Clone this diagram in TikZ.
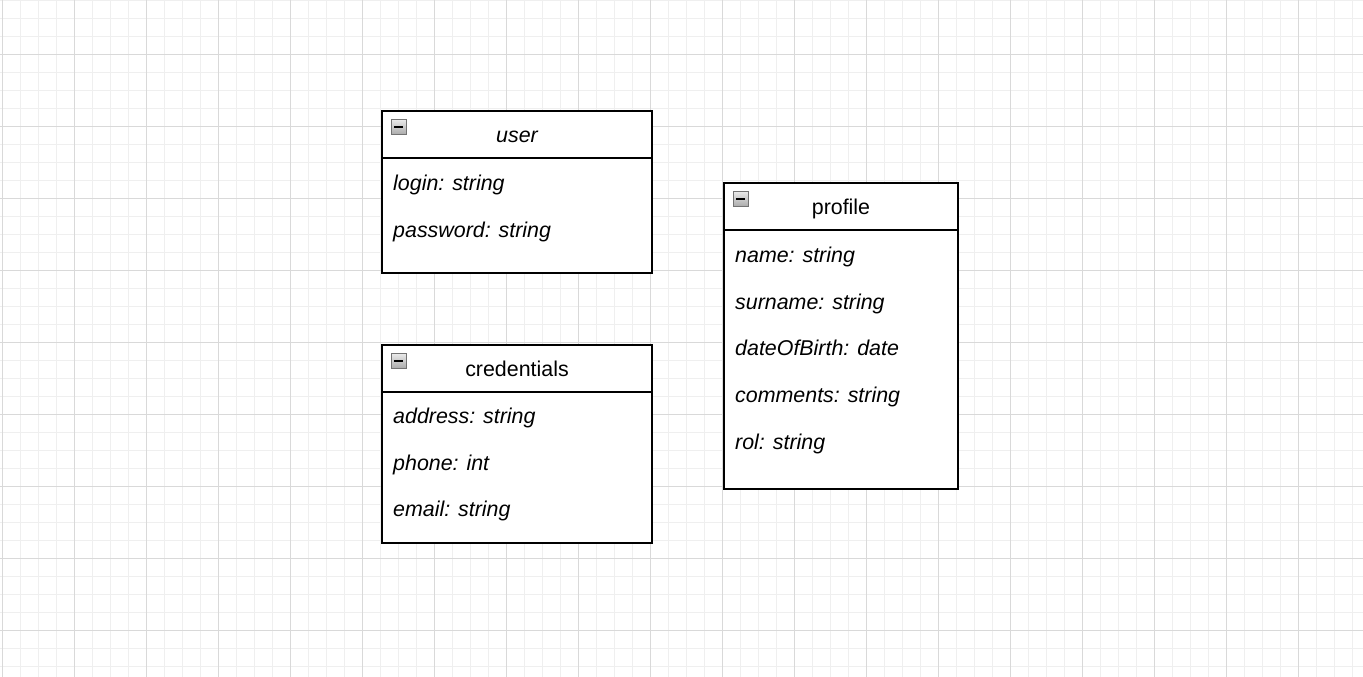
\documentclass[tikz,border=0pt]{standalone}
\usepackage{fontspec}
\setmainfont{Liberation Sans}
\usetikzlibrary{positioning}

\newcommand\classfont{\fontsize{21.4}{25}\selectfont}
\definecolor{gridlight}{HTML}{EFEFEF}
\definecolor{griddark}{HTML}{D9D9D9}

\tikzset{
 gridminor/.style={draw=gridlight, line width=0.8pt},
 gridmajor/.style={draw=griddark, line width=0.9pt},
 classhead/.style={draw, line width=1.5pt, fill=white, inner sep=0pt, outer sep=0pt,
   minimum height=47pt, text height=18pt, text depth=1.5pt, font=\classfont},
 classbody/.style={draw, line width=1.5pt, fill=white, inner sep=0pt, outer sep=0pt},
 collapse/.style={draw=gray!90!black, line width=0.8pt, top color=gray!15, bottom color=gray!65,
   minimum size=15pt, inner sep=0pt},
 attr/.style={inner sep=0pt, anchor=base west, font=\classfont\itshape}
}

\begin{document}
\begin{tikzpicture}[x=1pt,y=1pt]
 \useasboundingbox (0,0) rectangle (1363,-677);
 \fill[white] (0,0) rectangle (1363,-677);

 % grid
 \foreach \x in {2,20,...,1362} \draw[gridminor] (\x,0) -- (\x,-677);
 \foreach \y in {0,18,...,676} \draw[gridminor] (0,-\y) -- (1363,-\y);
 \foreach \x in {2,74,...,1362} \draw[gridmajor] (\x,0) -- (\x,-677);
 \foreach \y in {54,126,...,676} \draw[gridmajor] (0,-\y) -- (1363,-\y);

 % user
 \node[classhead, minimum width=270pt, font=\classfont\itshape] (user) at (517,-134.5) {user};
 \node[classbody, minimum width=270pt, minimum height=115pt, below=0pt of user] (userbody) {};
 \node[collapse] (usericon) at (398.5,-126.5) {\rule{9pt}{2pt}};
 \node[attr] (login) at (393,-190.7) {login: string};
 \node[attr, below=46.5pt of login.base west, anchor=base west] (password) {password: string};

 % credentials
 \node[classhead, minimum width=270pt] (cred) at (517,-368.5) {credentials};
 \node[classbody, minimum width=270pt, minimum height=151pt, below=0pt of cred] (credbody) {};
 \node[collapse] (credicon) at (398.5,-360.5) {\rule{9pt}{2pt}};
 \node[attr] (address) at (393,-423.3) {address: string};
 \node[attr, below=46.7pt of address.base west, anchor=base west] (phone) {phone: int};
 \node[attr, below=46.7pt of phone.base west, anchor=base west] (email) {email: string};

 % profile
 \node[classhead, minimum width=234pt] (profile) at (841,-206.5) {profile};
 \node[classbody, minimum width=234pt, minimum height=259pt, below=0pt of profile] (profilebody) {};
 \node[collapse] (profileicon) at (740.5,-198.5) {\rule{9pt}{2pt}};
 \node[attr] (name) at (735,-262.3) {name: string};
 \node[attr, below=46.7pt of name.base west, anchor=base west] (surname) {surname: string};
 \node[attr, below=46.7pt of surname.base west, anchor=base west] (birth) {dateOfBirth: date};
 \node[attr, below=46.7pt of birth.base west, anchor=base west] (comments) {comments: string};
 \node[attr, below=46.7pt of comments.base west, anchor=base west] (rol) {rol: string};
\end{tikzpicture}
\end{document}
